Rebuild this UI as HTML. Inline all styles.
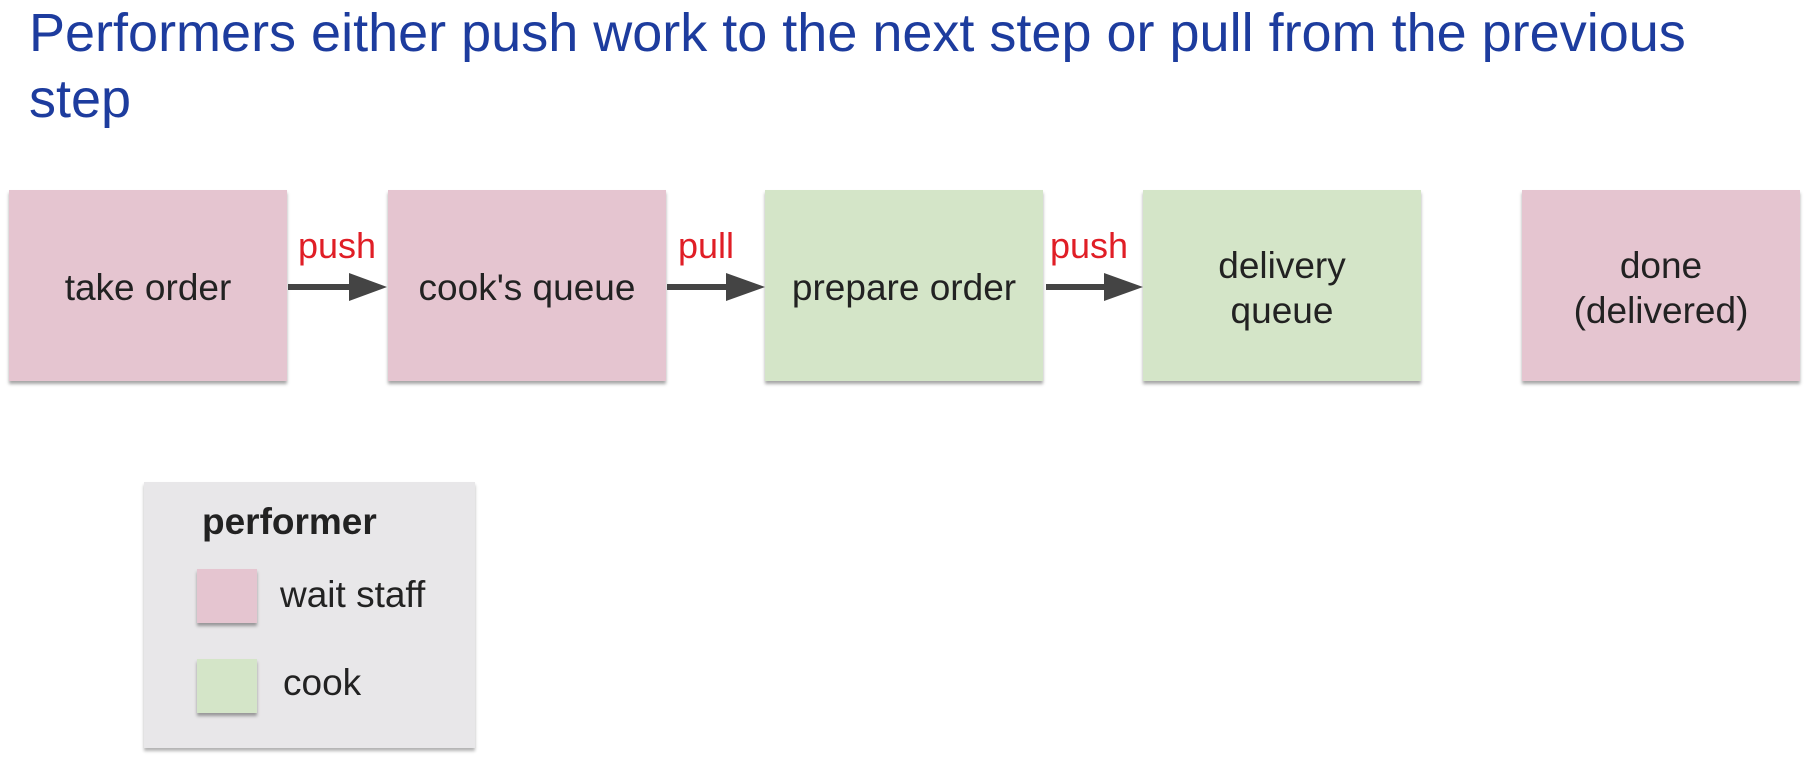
<!DOCTYPE html>
<html><head><meta charset="utf-8"><style>
body{margin:0;width:1809px;height:760px;background:#fff;position:relative;overflow:hidden;font-family:"Liberation Sans",sans-serif}
.t{position:absolute;left:29px;top:0px;font-size:54px;line-height:66px;color:#1d3c9e;width:1720px}
.b{position:absolute;top:190px;width:278px;height:191px;display:flex;align-items:center;justify-content:center;text-align:center;font-size:37px;line-height:45px;color:#222;box-shadow:0 3px 3px rgba(0,0,0,.35);padding-top:4px;box-sizing:border-box}
.p{background:#e5c5d0}.g{background:#d4e5c8}
.l{position:absolute;font-size:36px;color:#e01e26;top:225px}
.leg{position:absolute;left:144px;top:482px;width:331px;height:266px;background:#e8e7e9;box-shadow:0 3px 3px rgba(0,0,0,.3)}
.sw{position:absolute;left:53px;width:60px;height:54px;box-shadow:0 3px 3px rgba(0,0,0,.35)}
.lt{position:absolute;font-size:37px;color:#222}
</style></head><body>
<div class="t">Performers either push work to the next step or pull from the previous step</div>
<div class="b p" style="left:9px">take order</div>
<div class="b p" style="left:388px">cook's queue</div>
<div class="b g" style="left:765px">prepare order</div>
<div class="b g" style="left:1143px">delivery<br>queue</div>
<div class="b p" style="left:1522px">done<br>(delivered)</div>
<svg width="1809" height="760" style="position:absolute;left:0;top:0">
<g fill="#444"><rect x="288" y="284" width="64" height="6"/><polygon points="349,273 387,287 349,301"/>
<rect x="667" y="284" width="62" height="6"/><polygon points="726,273 765,287 726,301"/>
<rect x="1046" y="284" width="60" height="6"/><polygon points="1104,273 1143,287 1104,301"/></g></svg>
<div class="l" style="left:298px">push</div>
<div class="l" style="left:678px">pull</div>
<div class="l" style="left:1050px">push</div>
<div class="leg">
<div class="lt" style="left:58px;top:19px;font-weight:bold">performer</div>
<div class="sw p" style="top:87px"></div><div class="lt" style="left:136px;top:92px">wait staff</div>
<div class="sw g" style="top:177px"></div><div class="lt" style="left:139px;top:180px">cook</div>
</div>
</body></html>
